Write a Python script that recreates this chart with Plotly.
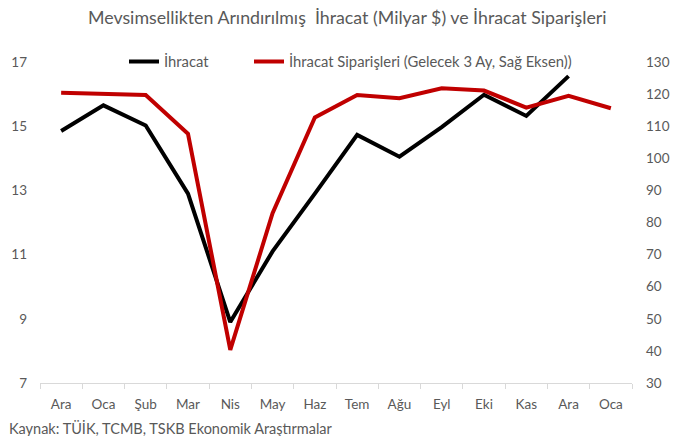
import plotly.graph_objects as go

months = ["Ara", "Oca", "Şub", "Mar", "Nis", "May", "Haz", "Tem", "Ağu", "Eyl", "Eki", "Kas", "Ara", "Oca"]
ihracat = [14.85, 15.65, 15.02, 12.9, 8.9, 11.1, 12.9, 14.73, 14.05, 14.97, 15.98, 15.32, 16.56]
siparis = [120.4, 120.2, 119.7, 107.6, 40.3, 82.9, 112.7, 119.7, 118.7, 121.8, 121.1, 115.8, 119.5, 115.6]
left_ticks = [7, 9, 11, 13, 15, 17]
right_ticks = [30, 40, 50, 60, 70, 80, 90, 100, 110, 120, 130]

pos = list(range(len(months)))
FONT = "Lato"
GRAY = "#595959"

fig = go.Figure()
fig.add_trace(go.Scatter(x=pos[:len(ihracat)], y=ihracat, mode="lines", name="İhracat",
                         line=dict(color="#000000", width=4), legend="legend"))
fig.add_trace(go.Scatter(x=pos, y=siparis, mode="lines", name="İhracat Siparişleri (Gelecek 3 Ay, Sağ Eksen))",
                         line=dict(color="#C00000", width=4), yaxis="y2", legend="legend2"))

leg_common = dict(orientation="h", yref="paper", y=1.0, xanchor="left", yanchor="middle",
                  font=dict(size=14.8, color=GRAY, family=FONT), bgcolor="rgba(0,0,0,0)")

L, R = 40, 49
PW = 681 - L - R

fig.update_layout(
    width=681, height=436,
    margin=dict(l=L, r=R, t=62, b=53, autoexpand=False),
    paper_bgcolor="white", plot_bgcolor="white",
    font=dict(family=FONT, color=GRAY, size=13),
    title=dict(text="Mevsimsellikten Arındırılmış  İhracat (Milyar $) ve İhracat Siparişleri",
               x=0.51, xanchor="center", y=0.96, yanchor="middle",
               font=dict(family=FONT, size=17.8, color=GRAY)),
    showlegend=True,
    legend=dict(x=(124 - L) / PW, **leg_common),
    legend2=dict(x=(249 - L) / PW, **leg_common),
    xaxis=dict(range=[-0.5, 13.5], tickmode="array", tickvals=pos, ticktext=months,
               showgrid=False, zeroline=False, showline=True, linecolor="#d9d9d9", linewidth=1,
               ticks="", ticklabelstandoff=9, tickfont=dict(size=13.5, color=GRAY),
               minor=dict(tickmode="linear", tick0=-0.5, dtick=1, ticks="outside",
                          ticklen=5, tickcolor="#d9d9d9", showgrid=False)),
    yaxis=dict(range=[7, 17], tickmode="array", tickvals=left_ticks, showgrid=False,
               zeroline=False, showline=False, ticks="", ticklabelstandoff=12,
               tickfont=dict(size=13.5, color=GRAY)),
    yaxis2=dict(range=[30, 130], tickmode="array", tickvals=right_ticks, overlaying="y",
                side="right", showgrid=False, zeroline=False, showline=False, ticks="",
                ticklabelstandoff=13, tickfont=dict(size=13.5, color=GRAY)),
    annotations=[dict(text="Kaynak: TÜİK, TCMB, TSKB Ekonomik Araştırmalar", xref="paper", yref="paper",
                      x=0, y=0, xshift=-33, yshift=-45, xanchor="left", yanchor="middle",
                      showarrow=False, font=dict(size=14.5, color=GRAY, family=FONT))],
)

fig.write_html("out.html", config={"displayModeBar": False},
               post_script="document.body.style.margin='0';")
